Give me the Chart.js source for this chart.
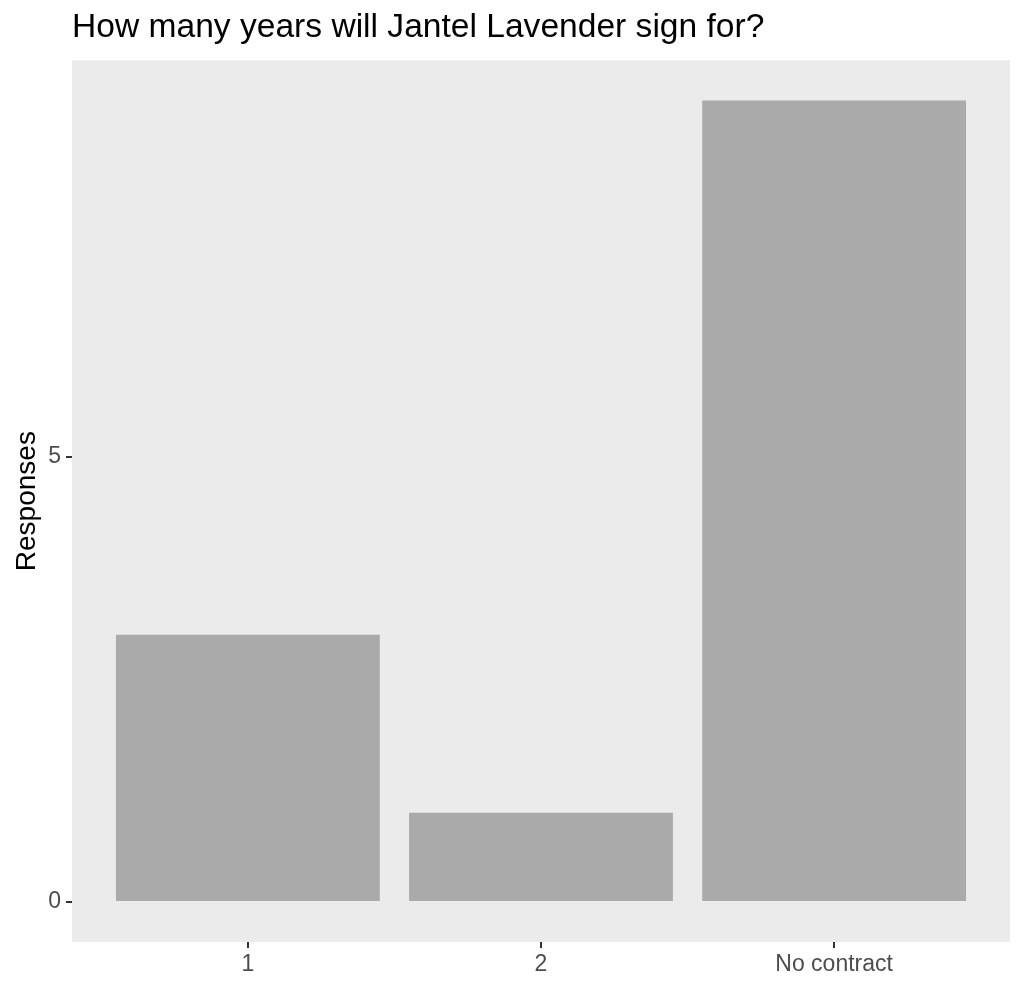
<!DOCTYPE html>
<html>
<head>
<meta charset="utf-8">
<title>Jantel Lavender</title>
<script src="https://cdn.jsdelivr.net/npm/chart.js@4/dist/chart.umd.min.js"></script>
<style>
  html, body { margin: 0; padding: 0; background: #fff; }
  #wrap { width: 1024px; height: 991px; position: relative; }
</style>
</head>
<body>
<div id="wrap"><canvas id="chart"></canvas></div>
<script>
// data
const categories = ['1', '2', 'No contract'];
const responses = [3, 1, 9];
const yTicks = [0, 5];

const FONT = 'Arial, "Liberation Sans", sans-serif';

// grey panel behind the plot area (ggplot look)
const panelBg = {
  id: 'panelBg',
  beforeDraw(chart) {
    const a = chart.chartArea;
    const ctx = chart.ctx;
    ctx.save();
    ctx.fillStyle = '#EBEBEB';
    ctx.fillRect(a.left, a.top, a.right - a.left, a.bottom - a.top);
    ctx.restore();
  }
};

new Chart(document.getElementById('chart').getContext('2d'), {
  type: 'bar',
  data: {
    datasets: [{
      label: 'Responses',
      data: responses.map((v, i) => ({ x: i, y: v })),
      backgroundColor: '#AAAAAA',
      borderWidth: 0,
      barPercentage: 0.9,
      categoryPercentage: 1
    }]
  },
  options: {
    responsive: true,
    maintainAspectRatio: false,
    animation: false,
    layout: { padding: { left: 0, right: 14, top: 0, bottom: 0 } },
    plugins: {
      legend: { display: false },
      tooltip: { enabled: false },
      title: {
        display: true,
        text: 'How many years will Jantel Lavender sign for?',
        align: 'start',
        fullSize: false,
        color: '#000',
        font: { family: FONT, size: 33.6, weight: 'normal' },
        padding: { top: 8, bottom: 12 }
      }
    },
    scales: {
      x: {
        type: 'linear',
        offset: false,
        min: -0.6,
        max: categories.length - 0.4,
        afterBuildTicks(scale) { scale.ticks = categories.map((c, i) => ({ value: i })); },
        afterFit(scale) { scale.height = 49; },
        ticks: {
          color: '#4D4D4D',
          font: { family: FONT, size: 23 },
          padding: 3,
          maxRotation: 0,
          autoSkip: false,
          callback: v => categories[v]
        },
        grid: { offset: false, drawOnChartArea: false, drawTicks: true, tickLength: 6, tickColor: '#333333', lineWidth: 2 },
        border: { display: false }
      },
      y: {
        min: -0.45,
        max: 9.45,
        afterBuildTicks(scale) { scale.ticks = yTicks.map(v => ({ value: v })); },
        afterFit(scale) { scale.width = 72; },
        ticks: {
          color: '#4D4D4D',
          font: { family: FONT, size: 23 },
          padding: 5
        },
        title: {
          display: true,
          text: 'Responses',
          color: '#000',
          font: { family: FONT, size: 28 },
          padding: { top: 10, bottom: 0 }
        },
        grid: { drawOnChartArea: false, drawTicks: true, tickLength: 6, tickColor: '#333333', lineWidth: 2 },
        border: { display: false }
      }
    }
  },
  plugins: [panelBg]
});
</script>
</body>
</html>
